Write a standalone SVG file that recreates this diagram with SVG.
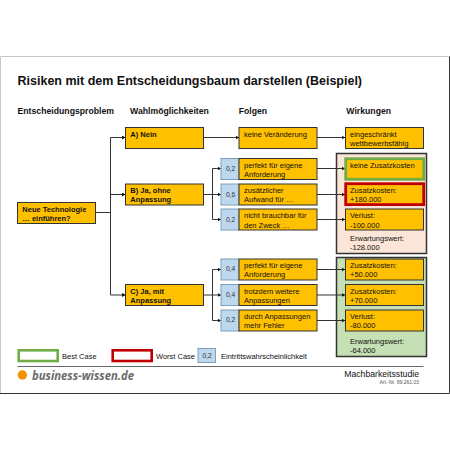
<svg xmlns="http://www.w3.org/2000/svg" width="450" height="450" viewBox="0 0 450 450">
<style>
text{font-family:"Liberation Sans",Arial,sans-serif;fill:#111}
.t{font-size:7.5px}
.b{font-size:7.5px;font-weight:bold}
.h{font-size:8.7px;font-weight:bold}
.s{font-size:6.6px;text-anchor:middle;fill:#333}
.o{fill:#ffc000;stroke:#333;stroke-width:1}
.p{fill:#bdd7ee;stroke:#7f9fc0;stroke-width:1}
.c{fill:none;stroke:#333;stroke-width:1}
</style>
<defs>
<marker id="a" markerWidth="4" markerHeight="4" refX="3.500" refY="2" orient="auto" markerUnits="userSpaceOnUse"><path d="M0 0L3.500 2L0 4z" fill="#111"/></marker>
</defs>
<rect width="450" height="450" fill="#fff"/>
<path d="M0.500 393V56.500H449" fill="none" stroke="#c8c8c8" stroke-width="1"/>
<path d="M449.500 56.500V393.500H0" fill="none" stroke="#333" stroke-width="1"/>
<text x="17.500" y="84.500" font-size="12.500" font-weight="bold">Risiken mit dem Entscheidungsbaum darstellen (Beispiel)</text>
<g id="headers">
<text class="h" x="17.500" y="114">Entscheidungsproblem</text>
<text class="h" x="130" y="114">Wahlmöglichkeiten</text>
<text class="h" x="238.700" y="114">Folgen</text>
<text class="h" x="346.300" y="114">Wirkungen</text>
</g>
<g id="panels">
<rect id="panel-b" x="336.500" y="153.500" width="90" height="100" fill="#fbe5d6" stroke="#333" stroke-width="1.500"/>
<rect id="panel-c" x="336.500" y="257.500" width="90" height="99" fill="#c5e0b4" stroke="#333" stroke-width="1.500"/>
</g>
<g id="connectors">
<path class="c" d="M96 212.500H110.500M110.500 137.500V295"/>
<path class="c" marker-end="url(#a)" d="M110.500 137.500H125.500"/>
<path class="c" marker-end="url(#a)" d="M110.500 194.500H125.500"/>
<path class="c" marker-end="url(#a)" d="M110.500 295H125.500"/>
<path class="c" marker-end="url(#a)" d="M204 137.500H239"/>
<path class="c" marker-end="url(#a)" d="M317 137.500H345"/>
<path class="c" d="M204 194.500H212.500M212.500 168.500V219.500"/>
<path class="c" marker-end="url(#a)" d="M212.500 168.500H221"/>
<path class="c" marker-end="url(#a)" d="M212.500 194.500H221"/>
<path class="c" marker-end="url(#a)" d="M212.500 219.500H221"/>
<path class="c" d="M204 295H212.500M212.500 269.500V320.500"/>
<path class="c" marker-end="url(#a)" d="M212.500 269.500H221"/>
<path class="c" marker-end="url(#a)" d="M212.500 295H221"/>
<path class="c" marker-end="url(#a)" d="M212.500 320.500H221"/>
<path class="c" marker-end="url(#a)" d="M317 168.500H345"/>
<path class="c" marker-end="url(#a)" d="M317 194.500H345"/>
<path class="c" marker-end="url(#a)" d="M317 219.500H345"/>
<path class="c" marker-end="url(#a)" d="M317 269.500H345"/>
<path class="c" marker-end="url(#a)" d="M317 295H345"/>
<path class="c" marker-end="url(#a)" d="M317 320.500H345"/>
</g>
<g id="n-root"><rect class="o" x="17.500" y="202.500" width="78" height="21"/><text class="b" x="22.300" y="211.800">Neue Technologie</text><text class="b" x="22.300" y="221">… einführen?</text></g>
<g id="n-a"><rect class="o" x="125.500" y="127.500" width="78" height="21"/><text class="b" x="130.300" y="137">A) Nein</text></g>
<g id="n-b"><rect class="o" x="125.500" y="184" width="78" height="21"/><text class="b" x="130.300" y="193">B) Ja, ohne</text><text class="b" x="130.300" y="202.300">Anpassung</text></g>
<g id="n-c"><rect class="o" x="125.500" y="284.500" width="78" height="21"/><text class="b" x="130.300" y="294">C) Ja, mit</text><text class="b" x="130.300" y="303.300">Anpassung</text></g>
<g id="n-f0"><rect class="o" x="239" y="127.500" width="78" height="21"/><text class="t" x="244" y="137">keine Veränderung</text></g>
<g id="n-w0"><rect class="o" x="345.500" y="127.500" width="78" height="21"/><text class="t" x="350" y="137">eingeschränkt</text><text class="t" x="350" y="146">wettbewerbsfähig</text></g>
<g id="n-p1"><rect class="p" x="221" y="158.500" width="18" height="21"/><text class="s" x="230.500" y="171.300">0,2</text></g>
<g id="n-f1"><rect class="o" x="239" y="158.500" width="78" height="21"/><text class="t" x="244" y="167.700">perfekt für eigene</text><text class="t" x="244" y="176.700">Anforderung</text></g>
<g id="n-p2"><rect class="p" x="221" y="184" width="18" height="21"/><text class="s" x="230.500" y="197">0,6</text></g>
<g id="n-f2"><rect class="o" x="239" y="184" width="78" height="21"/><text class="t" x="244" y="193">zusätzlicher</text><text class="t" x="244" y="202.300">Aufwand für …</text></g>
<g id="n-p3"><rect class="p" x="221" y="209" width="18" height="21"/><text class="s" x="230.500" y="222.300">0,2</text></g>
<g id="n-f3"><rect class="o" x="239" y="209" width="78" height="21"/><text class="t" x="244" y="218.300">nicht brauchbar für</text><text class="t" x="244" y="227.700">den Zweck …</text></g>
<g id="n-w1"><rect x="345.700" y="158.700" width="78" height="20.600" fill="#ffc000" stroke="#70ad47" stroke-width="2.800"/><text class="t" x="350" y="167.700">keine Zusatzkosten</text></g>
<g id="n-w2"><rect x="345.700" y="183.700" width="78" height="20.900" fill="#ffc000" stroke="#c00000" stroke-width="2.800"/><text class="t" x="350" y="193">Zusatzkosten:</text><text class="t" x="350" y="202.300">+180.000</text></g>
<g id="n-w3"><rect class="o" x="345.500" y="209" width="78" height="21"/><text class="t" x="350" y="218.300">Verlust:</text><text class="t" x="350" y="227.700">-100.000</text></g>
<g id="n-e1"><text class="t" x="350" y="240.700">Erwartungswert:</text><text class="t" x="350" y="249.700">-128.000</text></g>
<g id="n-p4"><rect class="p" x="221" y="259" width="18" height="21"/><text class="s" x="230.500" y="271.300">0,4</text></g>
<g id="n-f4"><rect class="o" x="239" y="259" width="78" height="21"/><text class="t" x="244" y="268.300">perfekt für eigene</text><text class="t" x="244" y="277.300">Anforderung</text></g>
<g id="n-p5"><rect class="p" x="221" y="284.500" width="18" height="21"/><text class="s" x="230.500" y="297">0,4</text></g>
<g id="n-f5"><rect class="o" x="239" y="284.500" width="78" height="21"/><text class="t" x="244" y="294">trotzdem weitere</text><text class="t" x="244" y="303.300">Anpassungen</text></g>
<g id="n-p6"><rect class="p" x="221" y="310" width="18" height="21"/><text class="s" x="230.500" y="322.300">0,2</text></g>
<g id="n-f6"><rect class="o" x="239" y="310" width="78" height="21"/><text class="t" x="244" y="319.300">durch Anpassungen</text><text class="t" x="244" y="328.300">mehr Fehler</text></g>
<g id="n-w4"><rect class="o" x="345.500" y="259" width="78" height="21"/><text class="t" x="350" y="268.300">Zusatzkosten:</text><text class="t" x="350" y="277.300">+50.000</text></g>
<g id="n-w5"><rect class="o" x="345.500" y="284.500" width="78" height="21"/><text class="t" x="350" y="294">Zusatzkosten:</text><text class="t" x="350" y="303.300">+70.000</text></g>
<g id="n-w6"><rect class="o" x="345.500" y="310" width="78" height="21"/><text class="t" x="350" y="319.300">Verlust:</text><text class="t" x="350" y="328.300">-80.000</text></g>
<g id="n-e2"><text class="t" x="350" y="344">Erwartungswert:</text><text class="t" x="350" y="353">-64.000</text></g>
<g id="legend">
<rect x="18.700" y="350.300" width="39" height="10.700" fill="#fff" stroke="#70ad47" stroke-width="2.600"/><text class="t" x="62" y="358.500">Best Case</text>
<rect x="112.700" y="350.300" width="39" height="10.700" fill="#fff" stroke="#c00000" stroke-width="2.600"/><text class="t" x="156" y="358.500">Worst Case</text>
<rect class="p" x="198" y="348.500" width="17.500" height="14"/><text class="s" x="207" y="358">0,2</text>
<text class="t" x="221" y="358.500">Eintrittswahrscheinlichkeit</text>
</g>
<path d="M17.500 366.500H423.500" stroke="#666" stroke-width="1"/>
<g id="footer">
<circle cx="22.400" cy="375" r="4.700" fill="#f39200"/>
<text x="32" y="379.500" font-size="13" font-weight="bold" font-style="italic" style="font-family:'Open Sans','DejaVu Sans',sans-serif;fill:#6b6b6b" textLength="102" lengthAdjust="spacingAndGlyphs">business-wissen.de</text>
<text x="419" y="377.300" font-size="8.700" text-anchor="end">Machbarkeitsstudie</text>
<text x="419" y="384" font-size="5" text-anchor="end" style="fill:#555">Art.-Nr. 99.261.03</text>
</g>
</svg>
